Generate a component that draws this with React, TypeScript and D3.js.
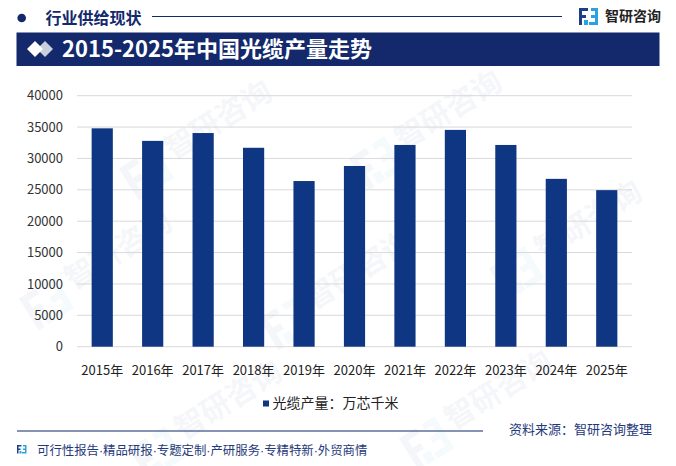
import * as d3 from 'd3';

const years = ['2015年', '2016年', '2017年', '2018年', '2019年', '2020年', '2021年', '2022年', '2023年', '2024年', '2025年'];
const output = [34800, 32800, 34050, 31700, 26400, 28800, 32150, 34550, 32150, 26750, 24950];
const yTicks = [0, 5000, 10000, 15000, 20000, 25000, 30000, 35000, 40000];

const seriesName = '光缆产量：万芯千米';
const chartTitle = '2015-2025年中国光缆产量走势';
const sectionTitle = '行业供给现状';
const brand = '智研咨询';
const sourceText = '资料来源：智研咨询整理';
const footerText = '可行性报告·精品研报·专题定制·产研服务·专精特新·外贸商情';

const W = 676;
const H = 466;
const NAVY = '#13296b';
const BAR = '#0e3682';
const FONT = '"Noto Sans CJK SC", "Noto Sans", sans-serif';

// small stylised logo: two interlocking brackets
const Logo = ({ x, y, s }: { x: number; y: number; s: number }) => (
  <g transform={`translate(${x},${y}) scale(${s})`}>
    <path d="M0 0 H9 V3 H3 V7 H7 V10 H3 V17 H0 Z" fill="#1d3f8a" />
    <path d="M19 0 V17 H10 V14 H16 V10 H12 V7 H16 V3 H12 V0 Z" fill="#2aa1e0" />
    <rect x={5} y={12} width={4} height={5} fill="#2aa1e0" />
  </g>
);

const watermarks = [
  { x: 190, y: 150 }, { x: 420, y: 140 }, { x: 90, y: 280 }, { x: 330, y: 300 },
  { x: 560, y: 250 }, { x: 200, y: 430 }, { x: 470, y: 420 },
];

const App = () => {
  const margin = { top: 95.7, bottom: 346.7, left: 77, right: 632 };

  const x = d3.scaleBand<string>()
    .domain(years)
    .range([margin.left, margin.right])
    .paddingInner(0.58)
    .paddingOuter(0.29);

  const y = d3.scaleLinear()
    .domain([0, 40000])
    .range([margin.bottom, margin.top]);

  return (
    <svg
      width={W}
      height={H}
      viewBox={`0 0 ${W} ${H}`}
      style={{ position: 'absolute', left: 0, top: 0, background: '#fff', fontFamily: FONT }}
    >
      <rect width={W} height={H} fill="#fff" />

      {/* faint watermarks */}
      {watermarks.map((w, i) => (
        <g key={i} transform={`translate(${w.x},${w.y}) rotate(-32)`} opacity={0.045}>
          <Logo x={-70} y={-22} s={2.2} />
          <text x={-20} y={0} fontSize={30} fontWeight={700} fill="#1d3f8a">{brand}</text>
        </g>
      ))}

      {/* header */}
      <circle cx={21.7} cy={18} r={4.3} fill={NAVY} />
      <text x={45.5} y={23.5} fontSize={16} fontWeight={700} fill={NAVY}>{sectionTitle}</text>
      <line x1={152} x2={562} y1={16.5} y2={16.5} stroke={NAVY} strokeWidth={1.2} />
      <Logo x={579} y={8} s={1} />
      <text x={605} y={20.5} fontSize={14} fontWeight={700} fill="#222">{brand}</text>

      {/* title band */}
      <rect x={16.5} y={32.5} width={643} height={33.5} fill={NAVY} />
      <path d="M37 49 L45 41 L53 49 L45 57 Z" fill="#c9cfdc" />
      <path d="M27 49 L35 41 L43 49 L35 57 Z" fill="#fff" />
      <text x={62} y={57} fontSize={22} fontWeight={700} fill="#fff">{chartTitle}</text>

      {/* grid + y ticks */}
      {yTicks.map(t => (
        <g key={t}>
          <line x1={margin.left} x2={margin.right} y1={y(t)} y2={y(t)} stroke="#d9d9d9" strokeWidth={1} />
          <text x={63} y={y(t)} dy="0.35em" textAnchor="end" fontSize={13} fill="#333">{t}</text>
        </g>
      ))}

      {/* bars */}
      {years.map((yr, i) => (
        <rect
          key={yr}
          x={x(yr)}
          y={y(output[i])}
          width={x.bandwidth()}
          height={y(0) - y(output[i])}
          fill={BAR}
        />
      ))}

      {/* x labels */}
      {years.map(yr => (
        <text
          key={yr}
          x={(x(yr) ?? 0) + x.bandwidth() / 2}
          y={370}
          dy="0.35em"
          textAnchor="middle"
          fontSize={13}
          fill="#222"
        >
          {yr}
        </text>
      ))}

      {/* legend */}
      <rect x={263} y={400.5} width={6} height={6} fill={BAR} />
      <text x={272.5} y={403.5} dy="0.35em" fontSize={14} fill="#222">{seriesName}</text>

      {/* footer */}
      <line x1={17} x2={483} y1={431} y2={431} stroke={NAVY} strokeWidth={1.2} />
      <text x={652} y={429} dy="0.35em" textAnchor="end" fontSize={13} fill="#1f3a7a">{sourceText}</text>
      <Logo x={17} y={445} s={0.5} />
      <text
        x={37}
        y={451}
        dy="0.35em"
        fontSize={12.4}
        fill="#1f3a7a"
        fontFamily="'Liberation Sans', 'Noto Sans CJK SC', sans-serif"
      >
        {footerText}
      </text>
    </svg>
  );
};

export default App;
